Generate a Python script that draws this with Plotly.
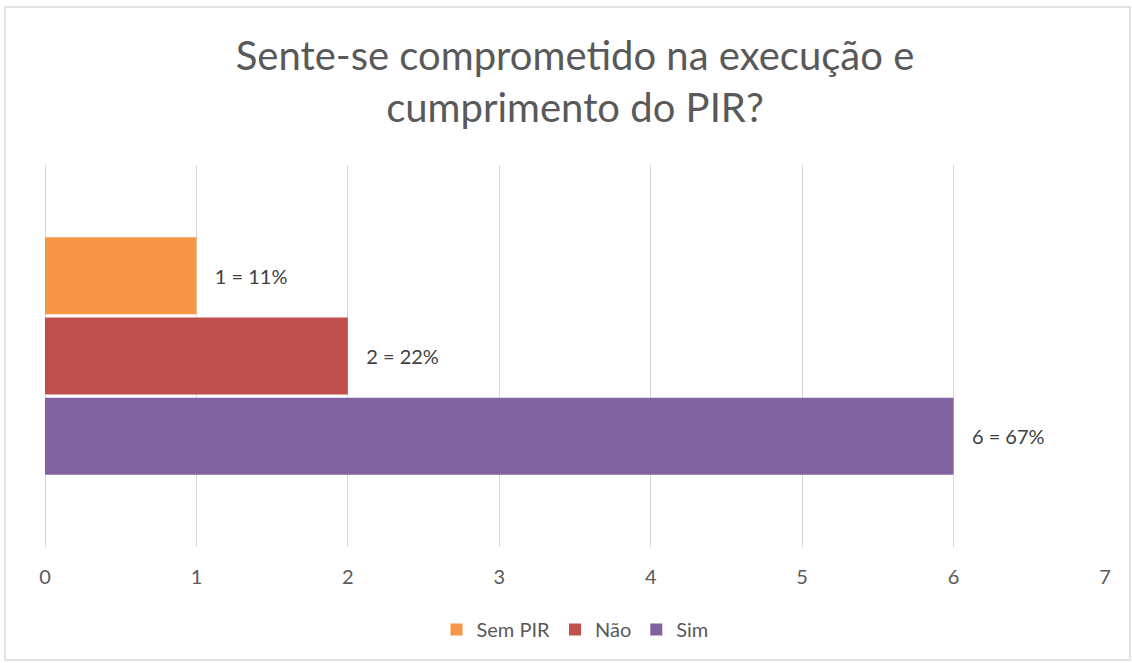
import plotly.graph_objects as go

categories = ["Sem PIR", "Não", "Sim"]
values = [1, 2, 6]
percents = [11, 22, 67]
colors = ["#F79646", "#C0504D", "#8064A2"]
x_ticks = [0, 1, 2, 3, 4, 5, 6, 7]

fig = go.Figure()
for name, v, p, c in zip(categories, values, percents, colors):
    fig.add_trace(go.Bar(
        y=[""], x=[v], name=name, orientation="h",
        marker=dict(color=c, line=dict(width=0)),
        text=[f"   {v} = {p}%"], textposition="outside",
        textfont=dict(size=20, color="#404040", family="Lato"),
        cliponaxis=False,
    ))

L, R, T, B = 45, 27, 165, 116
W, H = 1132, 663
pw = W - L - R
ph = H - T - B

fig.update_layout(
    width=W, height=H,
    margin=dict(l=L, r=R, t=T, b=B),
    paper_bgcolor="white", plot_bgcolor="white",
    font=dict(family="Lato", color="#595959"),
    title=dict(text="Sente-se comprometido na execução e<br>cumprimento do PIR?",
               x=0.5, xanchor="center", xref="paper",
               yref="container", y=1 - 70 / H, yanchor="middle",
               font=dict(size=40, color="#595959", family="Lato")),
    barmode="group", bargap=0.37, bargroupgap=0.04,
    showlegend=True,
    legend=dict(orientation="h", x=0.5, xanchor="center", y=-0.165, yanchor="top",
                font=dict(size=20, color="#595959"), itemwidth=30),
    xaxis=dict(range=[0, 7], tickvals=x_ticks, showgrid=True, gridcolor="#D9D9D9",
               gridwidth=1, zeroline=True, zerolinecolor="#D9D9D9", zerolinewidth=1,
               showline=False, ticks="", tickfont=dict(size=20, color="#595959"),
               ticklabelstandoff=16),
    yaxis=dict(autorange="reversed", showticklabels=False, showgrid=False,
               zeroline=False, showline=False),
    shapes=[dict(type="rect", xref="paper", yref="paper",
                 x0=(5 - L) / pw, x1=(1130 - L) / pw,
                 y0=(H - B - 660) / ph, y1=(H - B - 7) / ph,
                 line=dict(color="#D9D9D9", width=1.5), layer="below")],
)

fig.write_html("out.html", config={"displayModeBar": False},
               post_script="document.body.style.margin='0';document.body.style.overflow='hidden';")
